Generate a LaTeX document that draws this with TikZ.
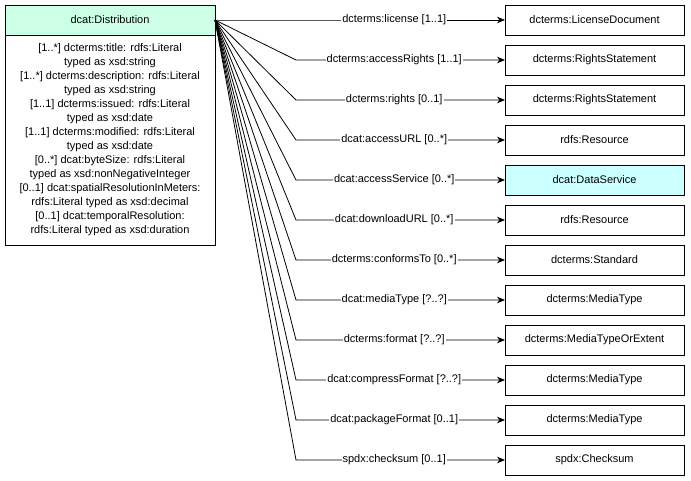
\documentclass[tikz,border=0pt]{standalone}
\usepackage{fontspec}
\setmainfont{Liberation Sans}
\usetikzlibrary{arrows.meta,positioning}
\definecolor{headgreen}{HTML}{CCFFE6}
\definecolor{servicecyan}{HTML}{CCFFFF}

\begin{document}
\begin{tikzpicture}[
    x=1pt,y=-1pt,
    node distance=10pt,
    font=\fontsize{11}{14}\selectfont,
    box/.style={rectangle,draw,line width=0.8pt,inner sep=0pt,outer sep=0pt},
    cls/.style={box,minimum width=179pt,minimum height=30pt},
    prop/.style={fill=white,inner sep=1pt},
    edge/.style={line width=0.8pt,-{Stealth[length=8pt,width=6.5pt,inset=2.5pt]}}
  ]
  \useasboundingbox (0,0) rectangle (691,481);

  %% Distribution class
  \node[box,fill=headgreen,minimum width=210pt,minimum height=30pt] (dist) at (110,20) {dcat:Distribution};
  \node[box,minimum width=210pt,minimum height=210pt,align=center,below=0pt of dist] (distattr)
    {{[1..*]} dcterms:title: rdfs:Literal\\ typed as xsd:string\\
     {[1..*]} dcterms:description: rdfs:Literal\\ typed as xsd:string\\
     {[1..1]} dcterms:issued: rdfs:Literal\\ typed as xsd:date\\
     {[1..1]} dcterms:modified: rdfs:Literal\\ typed as xsd:date\\
     {[0..*]} dcat:byteSize: rdfs:Literal\\ typed as xsd:nonNegativeInteger\\
     {[0..1]} dcat:spatialResolutionInMeters:\\ rdfs:Literal typed as xsd:decimal\\
     {[0..1]} dcat:temporalResolution:\\ rdfs:Literal typed as xsd:duration};

  %% Range classes
  \node[cls] (t1) at (594.5,20) {dcterms:LicenseDocument};
  \node[cls,below=of t1] (t2) {dcterms:RightsStatement};
  \node[cls,below=of t2] (t3) {dcterms:RightsStatement};
  \node[cls,below=of t3] (t4) {rdfs:Resource};
  \node[cls,fill=servicecyan,below=of t4] (t5) {dcat:DataService};
  \node[cls,below=of t5] (t6) {rdfs:Resource};
  \node[cls,below=of t6] (t7) {dcterms:Standard};
  \node[cls,below=of t7] (t8) {dcterms:MediaType};
  \node[cls,below=of t8] (t9) {dcterms:MediaTypeOrExtent};
  \node[cls,below=of t9] (t10) {dcterms:MediaType};
  \node[cls,below=of t10] (t11) {dcterms:MediaType};
  \node[cls,below=of t11] (t12) {spdx:Checksum};

  %% Properties
  \coordinate (bend) at (296,20);
  \foreach \i/\lbl in {1/{dcterms:license [1..1]},
      2/{dcterms:accessRights [1..1]},
      3/{dcterms:rights [0..1]},
      4/{dcat:accessURL [0..*]},
      5/{dcat:accessService [0..*]},
      6/{dcat:downloadURL [0..*]},
      7/{dcterms:conformsTo [0..*]},
      8/{dcat:mediaType [?..?]},
      9/{dcterms:format [?..?]},
      10/{dcat:compressFormat [?..?]},
      11/{dcat:packageFormat [0..1]},
      12/{spdx:checksum [0..1]}}{
    \draw[edge] (dist.east) -- (bend |- t\i.west) -- node[prop,pos=0.47]{\lbl} (t\i.west);
  }
\end{tikzpicture}
\end{document}
